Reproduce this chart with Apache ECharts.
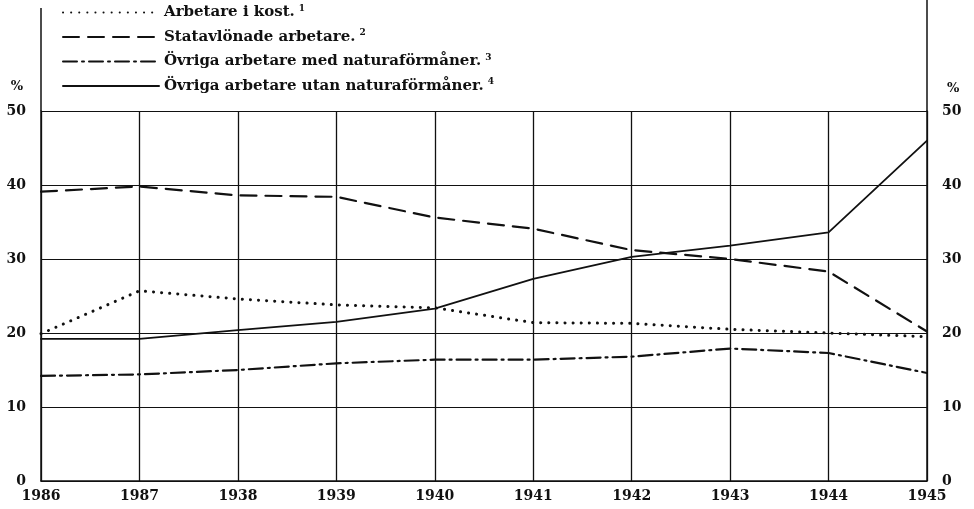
<!DOCTYPE html>
<html>
<head>
<meta charset="utf-8">
<script src="https://cdn.jsdelivr.net/npm/echarts@6/dist/echarts.min.js"></script>
<style>
  html, body { margin: 0; padding: 0; background: #fff; }
  #main { width: 974px; height: 509px; }
</style>
</head>
<body>
<div id="main"></div>
<script>
var years = ['1986', '1987', '1938', '1939', '1940', '1941', '1942', '1943', '1944', '1945'];

var names = [
  'Arbetare i kost.',
  'Statavlönade arbetare.',
  'Övriga arbetare med naturaförmåner.',
  'Övriga arbetare utan naturaförmåner.'
];
var notes = ['1', '2', '3', '4'];

var iKost = [19.9, 25.7, 24.6, 23.8, 23.4, 21.4, 21.3, 20.5, 20.0, 19.5];
var statare = [39.1, 39.8, 38.6, 38.4, 35.6, 34.1, 31.2, 30.0, 28.3, 20.2];
var medNatura = [14.2, 14.4, 15.0, 15.9, 16.4, 16.4, 16.8, 17.9, 17.3, 14.6];
var utanNatura = [19.2, 19.2, 20.4, 21.5, 23.3, 27.3, 30.3, 31.8, 33.6, 46.0];

var ink = '#111';
var font = 'DejaVu Serif';

var chartDom = document.getElementById('main');
var myChart = echarts.init(chartDom);

function serie(i, data, type, width) {
  return {
    name: names[i],
    type: 'line',
    data: data,
    symbol: 'none',
    itemStyle: { color: ink },
    lineStyle: { color: ink, width: width, type: type, cap: 'round' }
  };
}

var option = {
  backgroundColor: '#fff',
  animation: false,
  grid: { left: 41, right: 47, top: 111, bottom: 28 },
  legend: {
    orient: 'vertical',
    left: 62,
    top: 4,
    padding: 0,
    itemWidth: 96,
    itemHeight: 14,
    itemGap: 8.5,
    data: names,
    itemStyle: { opacity: 0 },
    formatter: function (name) {
      return name + '{s|' + notes[names.indexOf(name)] + '}';
    },
    textStyle: {
      fontFamily: font,
      fontSize: 15,
      fontWeight: 'bold',
      color: ink,
      rich: {
        s: { fontFamily: font, fontSize: 9, fontWeight: 'bold', color: ink, verticalAlign: 'top', padding: [0, 0, 8, 4] }
      }
    }
  },
  xAxis: {
    type: 'category',
    data: years,
    boundaryGap: false,
    axisLine: { lineStyle: { color: ink, width: 1.5 } },
    axisTick: { show: false },
    axisLabel: { color: ink, fontFamily: font, fontWeight: 'bold', fontSize: 14, margin: 8 },
    splitLine: { show: true, lineStyle: { color: ink, width: 1.3 } }
  },
  yAxis: [
    {
      type: 'value',
      min: 0,
      max: 50,
      interval: 10,
      name: '%',
      nameGap: 18,
      nameTextStyle: { color: ink, fontFamily: font, fontWeight: 'bold', fontSize: 13, align: 'right', padding: [0, 18, 0, 0] },
      axisLine: { show: true, lineStyle: { color: ink, width: 1.5 } },
      axisTick: { show: false },
      axisLabel: { color: ink, fontFamily: font, fontWeight: 'bold', fontSize: 14, margin: 15 },
      splitLine: { show: true, lineStyle: { color: ink, width: 1.2 } }
    },
    {
      type: 'value',
      min: 0,
      max: 50,
      interval: 10,
      position: 'right',
      name: '%',
      nameGap: 16,
      nameTextStyle: { color: ink, fontFamily: font, fontWeight: 'bold', fontSize: 13, align: 'left', padding: [0, 0, 0, 20] },
      axisLine: { show: true, lineStyle: { color: ink, width: 1.5 } },
      axisTick: { show: false },
      axisLabel: { color: ink, fontFamily: font, fontWeight: 'bold', fontSize: 14, margin: 15 },
      splitLine: { show: false }
    }
  ],
  series: [
    serie(0, iKost, [0.1, 8], 3),
    serie(1, statare, [16, 9], 2.2),
    serie(2, medNatura, [14, 5, 2, 5], 2.2),
    serie(3, utanNatura, 'solid', 1.8)
  ]
};
myChart.setOption(option);

// vertical axis lines run on above the 50 line, up to the legend
var top50 = myChart.convertToPixel({ yAxisIndex: 0 }, 50);
var xLeft = myChart.convertToPixel({ xAxisIndex: 0 }, 0);
var xRight = myChart.convertToPixel({ xAxisIndex: 0 }, years.length - 1);
myChart.setOption({
  graphic: [
    { type: 'line', shape: { x1: xLeft, y1: 8, x2: xLeft, y2: top50 }, style: { stroke: ink, lineWidth: 1.5 } },
    { type: 'line', shape: { x1: xRight, y1: 0, x2: xRight, y2: top50 }, style: { stroke: ink, lineWidth: 1.5 } }
  ]
});
</script>
</body>
</html>
